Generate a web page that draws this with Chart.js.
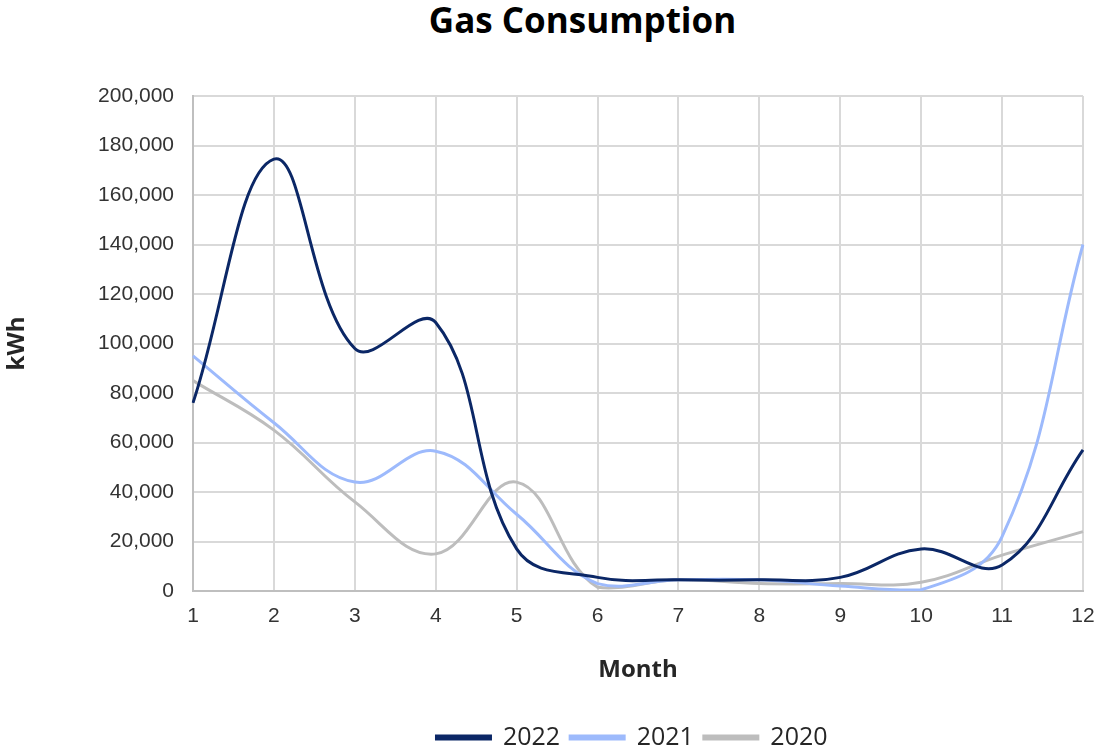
<!DOCTYPE html>
<html>
<head>
<meta charset="utf-8">
<script src="https://cdn.jsdelivr.net/npm/chart.js@4/dist/chart.umd.min.js"></script>
<style>
  html, body { margin: 0; padding: 0; background: #fff; }
  #wrap { position: relative; width: 1096px; height: 747px; }
  #title {
    position: absolute; left: 0; top: -4px; width: 1165px;
    text-align: center; font: bold 35px/48px "Open Sans", sans-serif; color: #000;
  }
  canvas { position: absolute; left: 0; top: 0; }
</style>
</head>
<body>
<div id="wrap">
  <div id="title">Gas Consumption</div>
  <canvas id="gasChart" width="1096" height="747"></canvas>
</div>
<script>
// Gas consumption (kWh) per month
const months = ["1", "2", "3", "4", "5", "6", "7", "8", "9", "10", "11", "12"];
const gas2022 = [76000, 174500, 98000, 108500, 17000, 5500, 4500, 4500, 5500, 17000, 10500, 57000];
const gas2021 = [95000, 68000, 44000, 56500, 31000, 3000, 4500, 4500, 2000, 500, 22000, 140000];
const gas2020 = [85000, 65000, 36000, 15000, 44000, 1500, 4500, 3000, 3000, 3500, 14500, 24000];
const yTicks = [0, 20000, 40000, 60000, 80000, 100000, 120000, 140000, 160000, 180000, 200000];

const TICK_FONT = "'Liberation Sans', Arial, sans-serif";
const LABEL_FONT = "'Open Sans', sans-serif";

function series(label, data, color) {
  return {
    label,
    data,
    borderColor: color,
    backgroundColor: color,
    borderWidth: 3,
    pointRadius: 0,
    tension: 0.4,
    fill: false,
  };
}

// nudge the legend so it sits under the plot like the original
const legendShift = {
  id: "legendShift",
  afterLayout(chart) {
    const lg = chart.legend;
    if (!lg) return;
    lg.left += 84;
    lg.right += 84;
    lg.top += 13;
    lg.bottom += 13;
  },
};

const ctx = document.getElementById("gasChart").getContext("2d");
new Chart(ctx, {
  type: "line",
  data: {
    labels: months,
    datasets: [
      series("2022", gas2022, "#0b2766"),
      series("2021", gas2021, "#9dbafc"),
      series("2020", gas2020, "#bdbdbd"),
    ],
  },
  plugins: [legendShift],
  options: {
    responsive: false,
    animation: false,
    layout: { padding: { top: 96, right: 0, left: 0, bottom: 0 } },
    plugins: {
      title: { display: false },
      tooltip: { enabled: false },
      legend: {
        position: "bottom",
        labels: {
          color: "#262626",
          font: { family: LABEL_FONT, size: 25 },
          boxWidth: 54,
          boxHeight: 3,
          padding: 10,
        },
      },
    },
    scales: {
      x: {
        offset: false,
        grid: { color: "#d9d9d9", lineWidth: 2, drawTicks: false },
        border: { color: "#bfbfbf", width: 2 },
        ticks: { color: "#333", font: { family: TICK_FONT, size: 21 }, padding: 13, maxRotation: 0 },
        title: {
          display: true,
          text: "Month",
          color: "#262626",
          font: { family: LABEL_FONT, size: 24, weight: "bold" },
          padding: { top: 0, bottom: 17 },
        },
        afterFit: (s) => { s.height = 111; s.paddingRight = 13; },
      },
      y: {
        min: 0,
        max: 200000,
        afterBuildTicks: (s) => { s.ticks = yTicks.map((v) => ({ value: v })); },
        grid: { color: "#d9d9d9", lineWidth: 2, drawTicks: false },
        border: { color: "#bfbfbf", width: 2 },
        ticks: {
          color: "#333",
          font: { family: TICK_FONT, size: 21 },
          padding: 19,
          callback: (v) => Number(v).toLocaleString("en-US"),
        },
        title: {
          display: true,
          text: "kWh",
          color: "#262626",
          font: { family: LABEL_FONT, size: 24, weight: "bold" },
          padding: { top: 3, bottom: 3 },
        },
        afterFit: (s) => { s.width = 193; },
      },
    },
  },
});
</script>
</body>
</html>
